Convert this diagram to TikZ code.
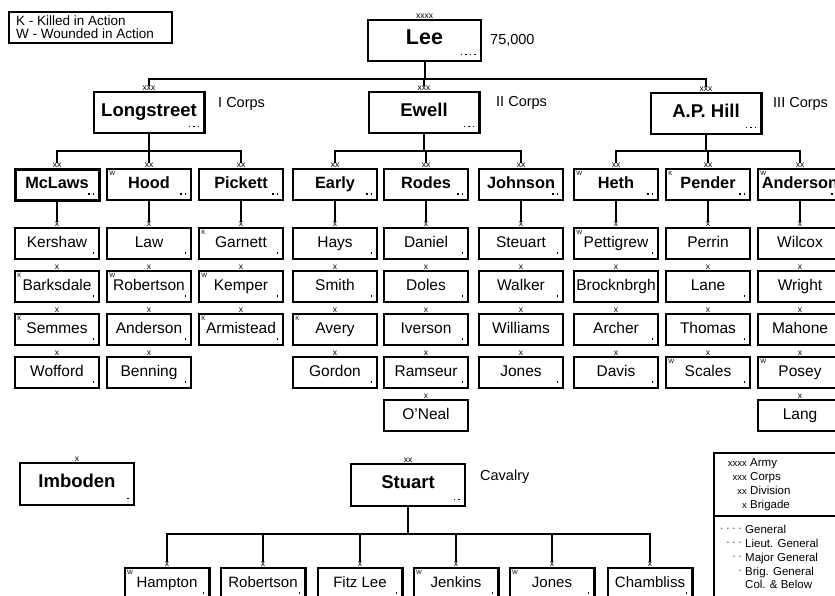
\documentclass[tikz,border=0pt]{standalone}
\usepackage{fontspec}
\setmainfont{Liberation Sans}
\newcommand\rankdots[2]{\foreach \k in {1,...,#2}{\fill ([shift={({-6.5-(\k-1)*4.5},-7)}]#1.south east) rectangle ++(1.5,1.5);}}
\newcommand\orgbox[8]{%
 \node[#1] (#2) at (#3,#4) {#5};
 \node[ech] (#2-e) at ([yshift=2pt]#2.north) {#6};
 \ifnum#7>0\relax\rankdots{#2}{#7}\fi
 \if\relax\detokenize{#8}\relax\else\node[casl] (#2-c) at ([shift={(2.2,1.8)}]#2.north west) {#8};\fi
}
\begin{document}
\begin{tikzpicture}[x=1pt,y=-1pt,
 box/.style={draw,line width=2.4pt,inner sep=0pt,outer sep=0pt,text height=0.72em,text depth=0pt},
 leebox/.style={box,minimum width=112.6pt,minimum height=40.6pt,font=\fontsize{21.5}{24}\selectfont\bfseries},
 corps/.style={box,minimum width=110.6pt,minimum height=40.6pt,font=\fontsize{18.5}{21}\selectfont\bfseries},
 div/.style={box,minimum width=84pt,minimum height=31pt,font=\fontsize{16.3}{18}\selectfont\bfseries},
 brig/.style={box,minimum width=84pt,minimum height=31pt,font=\fontsize{15.5}{18}\selectfont},
 cbrig/.style={box,minimum width=84.6pt,minimum height=31pt,font=\fontsize{15}{18}\selectfont},
 cav/.style={box,minimum width=113.6pt,minimum height=41.6pt,font=\fontsize{18.5}{21}\selectfont\bfseries},
 ech/.style={inner sep=0pt,outer sep=0pt,anchor=south,font=\fontsize{8.5}{9}\selectfont},
 casl/.style={inner sep=0pt,anchor=north west,font=\fontsize{6.2}{7}\selectfont},
 note/.style={inner sep=0pt,anchor=west,text height=0.72em,text depth=0pt,font=\fontsize{14.5}{16}\selectfont},
 conn/.style={line width=2pt},
 legtxt/.style={inner sep=0pt,anchor=west,text height=0.72em,text depth=0pt,font=\fontsize{11.5}{13}\selectfont},
 legmk/.style={inner sep=0pt,anchor=east,font=\fontsize{9.5}{10}\selectfont},
]
\useasboundingbox (0,0) rectangle (835,595);

% legend top-left
\draw[line width=1.2pt] (9,12) rectangle (172,43);
\node[legtxt,font=\fontsize{13.5}{15}\selectfont] (lk) at (16,22) {K - Killed in Action};
\node[legtxt,font=\fontsize{13.5}{15}\selectfont] (lw) at (16,34.5) {W - Wounded in Action};

% army
\orgbox{leebox}{lee}{424.5}{40.5}{Lee}{xxxx}{4}{}
\node[note] (leen) at (490,41) {75,000};

% corps
\orgbox{corps}{ls}{149}{112.5}{Longstreet}{xxx}{3}{}
\orgbox{corps}{ew}{424}{112.5}{Ewell}{xxx}{3}{}
\orgbox{corps}{ap}{706}{113.5}{A.P. Hill}{xxx}{3}{}
\node[note] (lsn) at (218,104) {I Corps};
\node[note] (ewn) at (496,103) {II Corps};
\node[note] (apn) at (773,104) {III Corps};

% divisions
\orgbox{div,line width=3pt}{mcl}{57}{184.5}{McLaws}{xx}{2}{}
\orgbox{div}{hood}{149}{184.5}{Hood}{xx}{2}{W}
\orgbox{div}{pick}{241}{184.5}{Pickett}{xx}{2}{}
\orgbox{div}{early}{335}{184.5}{Early}{xx}{2}{}
\orgbox{div}{rodes}{426}{184.5}{Rodes}{xx}{2}{}
\orgbox{div}{john}{521}{184.5}{Johnson}{xx}{2}{}
\orgbox{div}{heth}{616}{184.5}{Heth}{xx}{2}{W}
\orgbox{div}{pend}{708}{184.5}{Pender}{xx}{2}{K}
\orgbox{div}{andr}{800}{184.5}{Anderson}{xx}{2}{W}

% brigades: McLaws
\orgbox{brig}{mcl1}{57}{243.5}{Kershaw}{x}{1}{}
\orgbox{brig}{mcl2}{57}{286.5}{Barksdale}{x}{1}{K}
\orgbox{brig}{mcl3}{57}{329.5}{Semmes}{x}{1}{K}
\orgbox{brig}{mcl4}{57}{372.5}{Wofford}{x}{1}{}
% Hood
\orgbox{brig}{hood1}{149}{243.5}{Law}{x}{1}{}
\orgbox{brig}{hood2}{149}{286.5}{Robertson}{x}{1}{W}
\orgbox{brig}{hood3}{149}{329.5}{Anderson}{x}{1}{}
\orgbox{brig}{hood4}{149}{372.5}{Benning}{x}{1}{}
% Pickett
\orgbox{brig}{pick1}{241}{243.5}{Garnett}{x}{1}{K}
\orgbox{brig}{pick2}{241}{286.5}{Kemper}{x}{1}{W}
\orgbox{brig}{pick3}{241}{329.5}{Armistead}{x}{1}{K}
% Early
\orgbox{brig}{early1}{335}{243.5}{Hays}{x}{1}{}
\orgbox{brig}{early2}{335}{286.5}{Smith}{x}{1}{}
\orgbox{brig}{early3}{335}{329.5}{Avery}{x}{0}{K}
\orgbox{brig}{early4}{335}{372.5}{Gordon}{x}{1}{}
% Rodes
\orgbox{brig}{rodes1}{426}{243.5}{Daniel}{x}{1}{}
\orgbox{brig}{rodes2}{426}{286.5}{Doles}{x}{1}{}
\orgbox{brig}{rodes3}{426}{329.5}{Iverson}{x}{1}{}
\orgbox{brig}{rodes4}{426}{372.5}{Ramseur}{x}{1}{}
\orgbox{brig}{rodes5}{426}{415.5}{O'Neal}{x}{0}{}
% Johnson
\orgbox{brig}{john1}{521}{243.5}{Steuart}{x}{1}{}
\orgbox{brig}{john2}{521}{286.5}{Walker}{x}{1}{}
\orgbox{brig}{john3}{521}{329.5}{Williams}{x}{0}{}
\orgbox{brig}{john4}{521}{372.5}{Jones}{x}{1}{}
% Heth
\orgbox{brig}{heth1}{616}{243.5}{Pettigrew}{x}{1}{W}
\orgbox{brig}{heth2}{616}{286.5}{Brocknbrgh}{x}{0}{}
\orgbox{brig}{heth3}{616}{329.5}{Archer}{x}{1}{}
\orgbox{brig}{heth4}{616}{372.5}{Davis}{x}{1}{}
% Pender
\orgbox{brig}{pend1}{708}{243.5}{Perrin}{x}{0}{}
\orgbox{brig}{pend2}{708}{286.5}{Lane}{x}{1}{}
\orgbox{brig}{pend3}{708}{329.5}{Thomas}{x}{1}{}
\orgbox{brig}{pend4}{708}{372.5}{Scales}{x}{1}{W}
% Anderson
\orgbox{brig}{andr1}{800}{243.5}{Wilcox}{x}{1}{}
\orgbox{brig}{andr2}{800}{286.5}{Wright}{x}{1}{}
\orgbox{brig}{andr3}{800}{329.5}{Mahone}{x}{1}{}
\orgbox{brig}{andr4}{800}{372.5}{Posey}{x}{1}{W}
\orgbox{brig}{andr5}{800}{415.5}{Lang}{x}{0}{}

% cavalry and others
\orgbox{cav}{imb}{77}{484}{Imboden}{x}{1}{}
\orgbox{cav}{stu}{408}{485}{Stuart}{xx}{2}{}
\node[note] (stun) at (480,477) {Cavalry};
\orgbox{cbrig}{hamp}{167}{583.7}{Hampton}{x}{1}{W}
\orgbox{cbrig}{robc}{263}{583.7}{Robertson}{x}{1}{}
\orgbox{cbrig}{fitz}{360}{583.7}{Fitz Lee}{x}{1}{}
\orgbox{cbrig}{jenk}{456}{583.7}{Jenkins}{x}{1}{W}
\orgbox{cbrig}{jonc}{552}{583.7}{Jones}{x}{1}{W}
\orgbox{cbrig}{cham}{650}{583.7}{Chambliss}{x}{1}{}

% connectors
\foreach \c in {ls,ew,ap}{\draw[conn] (lee.south) -- ++(0,18) -| (\c-e.north);}
\foreach \d in {mcl,hood,pick}{\draw[conn] (ls.south) -- ++(0,18) -| (\d-e.north);}
\foreach \d in {early,rodes,john}{\draw[conn] (ew.south) -- ++(0,18) -| (\d-e.north);}
\foreach \d in {heth,pend,andr}{\draw[conn] (ap.south) -- ++(0,17) -| (\d-e.north);}
\foreach \d in {mcl,hood,pick,early,rodes,john,heth,pend,andr}{\draw[conn] (\d.south) -- (\d1-e.north);}
\foreach \b in {hamp,robc,fitz,jenk,jonc,cham}{\draw[conn] (stu.south) -- ++(0,28) -| (\b-e.north);}

% legend bottom-right
\draw[line width=1.2pt] (714,453) rectangle (870,620);
\draw[line width=1.2pt] (714,516) -- (870,516);
\node[legmk] (m1) at (747,464) {xxxx};
\node[legtxt] (t1) at (750,463) {Army};
\node[legmk] (m2) at (747,478) {xxx};
\node[legtxt] (t2) at (750,477) {Corps};
\node[legmk] (m3) at (747,492) {xx};
\node[legtxt] (t3) at (750,491) {Division};
\node[legmk] (m4) at (747,506) {x};
\node[legtxt] (t4) at (750,505) {Brigade};
\node[legmk,font=\fontsize{10}{11}\selectfont] (d1) at (742,530) {· · · ·};
\node[legtxt] (g1) at (745,530) {General};
\node[legmk,font=\fontsize{10}{11}\selectfont] (d2) at (742,544) {· · ·};
\node[legtxt] (g2) at (745,544) {Lieut. General};
\node[legmk,font=\fontsize{10}{11}\selectfont] (d3) at (742,558) {· ·};
\node[legtxt] (g3) at (745,558) {Major General};
\node[legmk,font=\fontsize{10}{11}\selectfont] (d4) at (742,572) {·};
\node[legtxt] (g4) at (745,572) {Brig. General};
\node[legtxt] (g5) at (745,585) {Col. \& Below};
\end{tikzpicture}
\end{document}
